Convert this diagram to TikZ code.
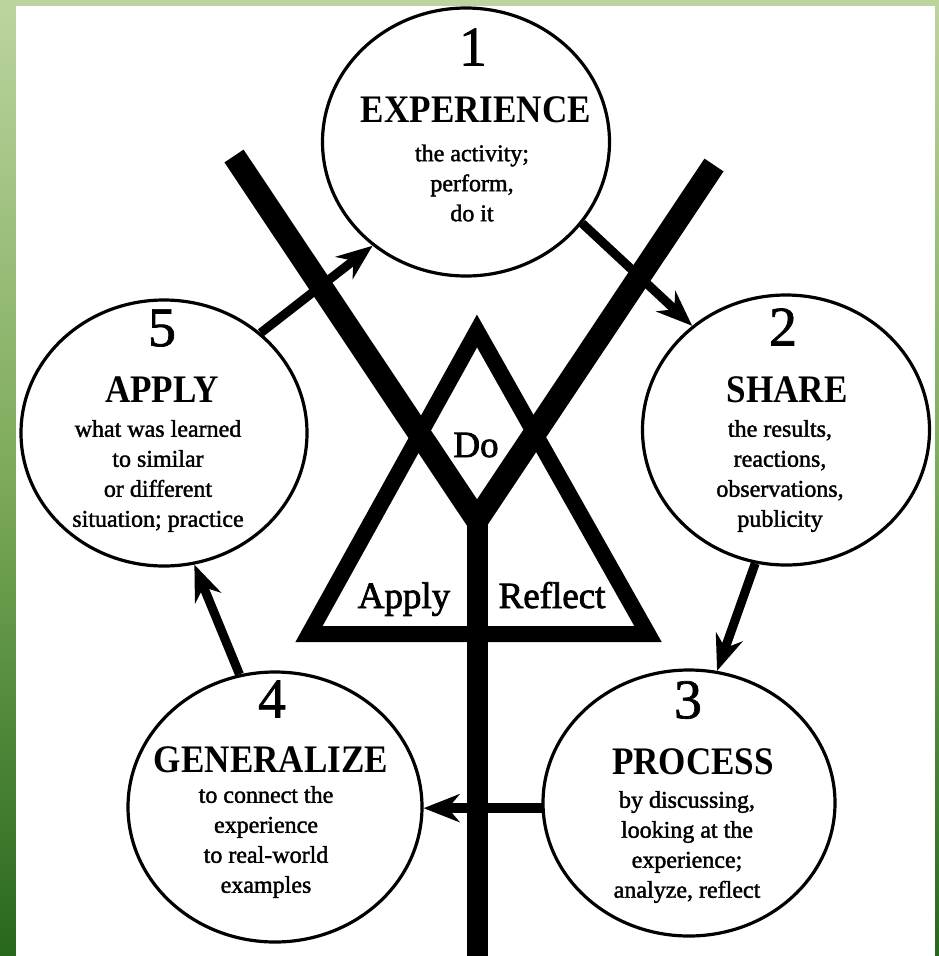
\documentclass[tikz,border=0pt]{standalone}
\usepackage{fontspec}
\setmainfont{Liberation Serif}
\newfontfamily\titlefont[FakeStretch=0.9]{Liberation Serif Bold}
\newfontfamily\bodyfont[FakeBold=1.6]{Liberation Serif}
\newfontfamily\numfont[FakeBold=1.2]{Liberation Serif}
\newfontfamily\lblfont[FakeBold=2]{Liberation Serif}
\usetikzlibrary{shapes.geometric,arrows.meta}
\begin{document}
\begin{tikzpicture}[x=1pt,y=-1pt,
  cyc/.style={draw, ellipse, line width=3.2pt, inner sep=0pt},
  num/.style={font=\numfont\fontsize{56}{56}\selectfont, inner sep=0pt},
  ttl/.style={font=\titlefont\fontsize{39}{39}\selectfont, inner sep=0pt},
  body/.style={font=\bodyfont\fontsize{24}{30}\selectfont, align=center, inner sep=0pt},
  flow/.style={line width=9pt, -{Stealth[length=36pt,width=28pt]}},
  ybar/.style={line width=23pt},
  tri/.style={line width=16pt, line join=miter},
  lbl/.style={font=\lblfont\fontsize{37}{37}\selectfont, inner sep=0pt, anchor=base}]
\useasboundingbox (0,0) rectangle (939,956);
% frame
\fill[top color={rgb,255:red,188;green,212;blue,158}, bottom color={rgb,255:red,40;green,104;blue,28}, middle color={rgb,255:red,124;green,170;blue,90}] (0,0) rectangle (939,956);
\fill[white] (16,6) rectangle (935,956);
% Y structure
\coordinate (ytopl) at (234,156);
\coordinate (ytopr) at (714,165);
\coordinate (yj) at (477,520);
\coordinate (ybot) at (477,960);
\draw[ybar, line join=miter] (ytopl) -- (yj) -- (ytopr);
\draw[ybar, line width=21pt] (yj) -- (ybot);
% triangle
\coordinate (ta) at (477,331);
\coordinate (tl) at (309,634);
\coordinate (tr) at (648,634);
\draw[tri] (ta) -- (tl) -- (tr) -- cycle;
\node[lbl] (do) at (476,457) {Do};
\node[lbl] (apply) at (404,608) {Apply};
\node[lbl] (reflect) at (552,608) {Reflect};
% circles
\node[cyc, minimum width=287pt, minimum height=268pt] (c1) at (466,142) {};
\node[cyc, minimum width=287pt, minimum height=270pt] (c2) at (786,430) {};
\node[cyc, minimum width=292pt, minimum height=266pt] (c3) at (689,803) {};
\node[cyc, minimum width=294pt, minimum height=270pt] (c4) at (275,807) {};
\node[cyc, minimum width=286pt, minimum height=266pt] (c5) at (164,433) {};
% texts
\node[num] (n1) at (473,47) {1};
\node[ttl] (t1) at (476,110) {EXPERIENCE};
\node[body] (b1) at (472,183) {the activity;\\perform,\\do it};
\node[num] (n2) at (783,327) {2};
\node[ttl] (t2) at (787,390) {SHARE};
\node[body] (b2) at (780,476) {the results,\\reactions,\\observations,\\publicity};
\node[num] (n3) at (688,700) {3};
\node[ttl] (t3) at (693,762) {PROCESS};
\node[body] (b3) at (687,847) {by discussing,\\looking at the\\experience;\\analyze, reflect};
\node[num] (n4) at (272,699) {4};
\node[ttl] (t4) at (271,760) {GENERALIZE};
\node[body] (b4) at (266,842) {to connect the\\experience\\to real-world\\examples};
\node[num] (n5) at (162,328) {5};
\node[ttl] (t5) at (162,390) {APPLY};
\node[body] (b5) at (158,476) {what was learned\\to similar\\or different\\situation; practice};
% arrows
\draw[flow] (c1.-35) -- (c2.132);
\draw[flow] (c2.-103) -- (c3.78);
\draw[flow, line width=10pt] (c3.182) -- (c3.182 -| c4.east);
\draw[flow] (c4.105) -- (c5.-77);
\draw[flow] (c5.46) -- (c1.-132);
\end{tikzpicture}
\end{document}
